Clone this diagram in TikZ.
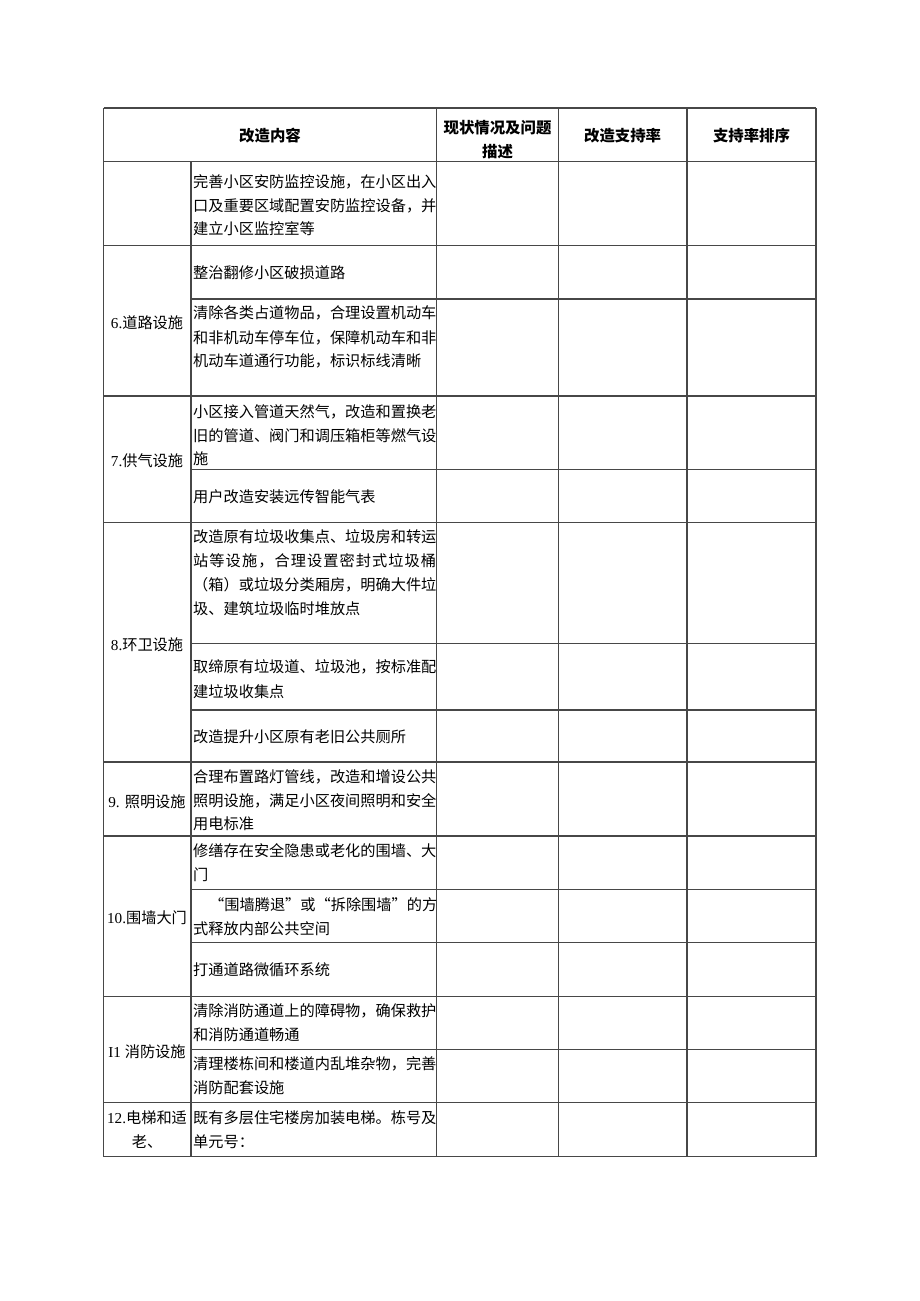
\documentclass[tikz,border=0pt]{standalone}
\usepackage{fontspec}
\setmainfont{Liberation Serif}
\newfontfamily\cjk{Noto Sans CJK SC}
\tikzset{
  body/.style={inner sep=0pt, anchor=base west, yshift=-5.6pt, font=\fontsize{15.2}{18}\selectfont\cjk},
  lab/.style={inner sep=0pt, anchor=base, yshift=-5.6pt, font=\fontsize{15.2}{18}\selectfont\cjk},
  head/.style={inner sep=0pt, anchor=base, yshift=-5.6pt, font=\fontsize{15.4}{18}\selectfont\cjk\bfseries},
  grid/.style={draw=black!72, line width=1.1pt}
}
\newcommand\bt[3]{\node[body] (#1) at (193,#2) {#3};}
\newcommand\lt[3]{\node[lab] (#1) at (147,#2) {#3};}
\begin{document}
\begin{tikzpicture}[x=1pt,y=-1pt]
\useasboundingbox (0,0) rectangle (920,1301);
\fill[white] (0,0) rectangle (920,1301);
% horizontal lines (full width)
\foreach \yy in {108,161.7,245.7,396,522.3,762,836,996.3,1102.3,1156.5}
  \draw[grid] (103.5,\yy) -- (816,\yy);
% horizontal lines (from column 2)
\foreach \yy in {299,469.3,643.3,710,889.3,942.3,1049.3}
  \draw[grid] (191,\yy) -- (816,\yy);
% vertical lines
\foreach \xx in {103.5,436.7,558.3,687,816}
  \draw[grid] (\xx,108) -- (\xx,1156.5);
\draw[grid] (191,161.7) -- (191,1156.5);
% header
\node[head] (h1) at (270,135.7) {改造内容};
\node[head] (h2a) at (497.5,128.3) {现状情况及问题};
\node[head] (h2b) at (497.5,151.7) {描述};
\node[head] (h3) at (622.6,135.7) {改造支持率};
\node[head] (h4) at (751.5,135.7) {支持率排序};
% column 1 labels
\lt{c6}{323.3}{{\rmfamily 6.}道路设施}
\lt{c7}{461}{{\rmfamily 7.}供气设施}
\lt{c8}{645}{{\rmfamily 8.}环卫设施}
\lt{c9}{801.7}{{\rmfamily 9. }照明设施}
\lt{c10}{918.3}{{\rmfamily 10.}围墙大门}
\lt{c11}{1051.7}{{\rmfamily I1 }消防设施}
\lt{c12a}{1118}{{\rmfamily 12.}电梯和适}
\lt{c12b}{1142.3}{老、}
% column 2 texts
\bt{t1a}{181.7}{完善小区安防监控设施，在小区出入}
\bt{t1b}{206}{口及重要区域配置安防监控设备，并}
\bt{t1c}{229.3}{建立小区监控室等}
\bt{t2}{272.7}{整治翻修小区破损道路}
\bt{t3a}{313.3}{清除各类占道物品，合理设置机动车}
\bt{t3b}{337.7}{和非机动车停车位，保障机动车和非}
\bt{t3c}{361}{机动车道通行功能，标识标线清晰}
\bt{t4a}{411.7}{小区接入管道天然气，改造和置换老}
\bt{t4b}{435.7}{旧的管道、阀门和调压箱柜等燃气设}
\bt{t4c}{459.3}{施}
\bt{t5}{496.7}{用户改造安装远传智能气表}
\bt{t6a}{536.7}{改造原有垃圾收集点、垃圾房和转运}
\bt{t6b}{561}{\makebox[243pt][s]{站\hfill 等\hfill 设\hfill 施\hfill ，\hfill 合\hfill 理\hfill 设\hfill 置\hfill 密\hfill 封\hfill 式\hfill 垃\hfill 圾\hfill 桶}}
\bt{t6c}{585}{（箱）或垃圾分类厢房，明确大件垃}
\bt{t6d}{609}{圾、建筑垃圾临时堆放点}
\bt{t7a}{666.7}{取缔原有垃圾道、垃圾池，按标准配}
\bt{t7b}{692}{建垃圾收集点}
\bt{t8}{736.7}{改造提升小区原有老旧公共厕所}
\bt{t9a}{776.7}{合理布置路灯管线，改造和增设公共}
\bt{t9b}{800.7}{照明设施，满足小区夜间照明和安全}
\bt{t9c}{824.3}{用电标准}
\bt{t10a}{850.7}{修缮存在安全隐患或老化的围墙、大}
\bt{t10b}{874.7}{门}
\node[body] (t11a) at (209,905) {\makebox[227pt][s]{“围墙腾退”\hfill 或\hfill “拆除围墙”\hfill 的方}};
\bt{t11b}{929}{式释放内部公共空间}
\bt{t12}{970}{打通道路微循环系统}
\bt{t13a}{1010.7}{清除消防通道上的障碍物，确保救护}
\bt{t13b}{1035}{和消防通道畅通}
\bt{t14a}{1063.7}{清理楼栋间和楼道内乱堆杂物，完善}
\bt{t14b}{1087.7}{消防配套设施}
\bt{t15a}{1118}{既有多层住宅楼房加装电梯。栋号及}
\bt{t15b}{1142.3}{单元号：}
\end{tikzpicture}
\end{document}
